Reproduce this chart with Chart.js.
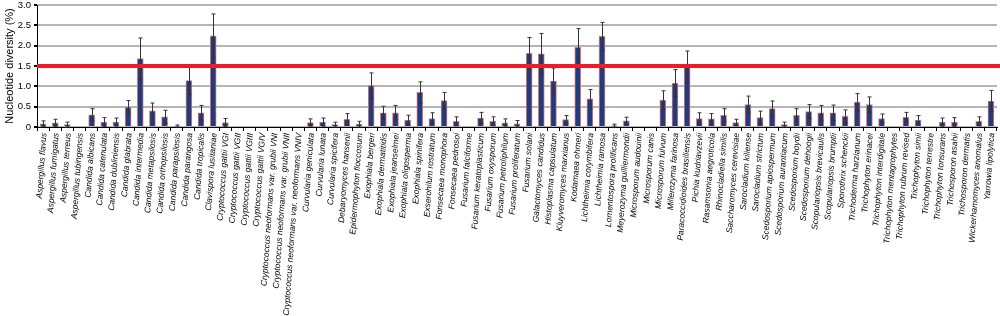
<!DOCTYPE html>
<html>
<head>
<meta charset="utf-8">
<script src="https://cdn.jsdelivr.net/npm/chart.js@4/dist/chart.umd.min.js"></script>
<style>
html,body{margin:0;padding:0;background:#fff;}
#wrap{width:1000px;height:316px;position:relative;}
</style>
</head>
<body>
<div id="wrap"><canvas id="c" width="1000" height="316"></canvas></div>
<script>
const species = [
"Aspergillus flavus","Aspergillus fumigatus","Aspergillus terreus","Aspergillus tubingensis",
"Candida albicans","Candida catenulata","Candida dubliniensis","Candida glabrata","Candida intermedia",
"Candida metapsilosis","Candida orthopsilosis","Candida parapsilosis","Candida parangosa","Candida tropicalis",
"Clavispora lusitaniae","Cryptococcus gattii VGI","Cryptococcus gattii VGII","Cryptococcus gattii VGIII",
"Cryptococcus gattii VGIV","Cryptococcus neoformans var. grubii VNI","Cryptococcus neoformans var. grubii VNII",
"Cryptococcus neoformans var. neoformans VNIV","Curvularia geniculata","Curvularia lunata","Curvularia spicifera",
"Debaryomyces hansenii","Epidermophyton floccosum","Exophiala bergeri","Exophiala dermatitidis","Exophiala jeanselmei",
"Exophiala oligosperma","Exophiala spinifera","Exserohilum rostratum","Fonsecaea monophora","Fonsecaea pedrosoi",
"Fusarium falciforme","Fusarium keratoplasticum","Fusarium oxysporum","Fusarium petroliphilum","Fusarium proliferatum",
"Fusarium solani","Galactomyces candidus","Histoplasma capsulatum","Kluyveromyces marxianus","Kodamaea ohmeri",
"Lichtheimia corymbifera","Lichtheimia ramosa","Lomentospora prolificans","Meyerozyma guilliermondii",
"Microsporum audouinii","Microsporum canis","Microsporum fulvum","Millerozyma farinosa","Paracoccidioides brasiliensis",
"Pichia kudriavzevii","Rasamsonia aegroticola","Rhinocladiella similis","Saccharomyces cerevisiae","Sarocladium kiliense",
"Sarocladium strictum","Scedosporium apiospermum","Scedosporium aurantiacum","Scedosporium boydii","Scedosporium dehoogii",
"Scopulariopsis brevicaulis","Scopulariopsis brumptii","Sporothrix schenckii","Trichoderma harzianum","Trichophyton erinacei",
"Trichophyton interdigitale","Trichophyton mentagrophytes","Trichophyton rubrum revised","Trichophyton simii",
"Trichophyton terrestre","Trichophyton tonsurans","Trichosporon asahii","Trichosporon dermatis",
"Wickerhamomyces anomalus","Yarrowia lipolytica"
];
const diversity = [
0.08,0.10,0.06,0.00,
0.30,0.12,0.12,0.49,1.68,
0.40,0.25,0.02,1.14,0.35,
2.24,0.11,0.00,0.00,
0.00,0.00,0.00,
0.00,0.11,0.12,0.06,
0.19,0.07,1.02,0.35,0.35,
0.17,0.85,0.21,0.65,0.14,
0.00,0.22,0.14,0.10,0.08,
1.81,1.80,1.13,0.18,1.96,
0.69,2.23,0.03,0.15,
0.00,0.00,0.66,1.08,1.48,
0.21,0.20,0.29,0.11,0.55,
0.23,0.45,0.06,0.29,0.38,
0.35,0.35,0.26,0.61,0.55,
0.21,0.00,0.24,0.17,
0.00,0.12,0.12,0.00,
0.14,0.64
];
const errors = [
0.07,0.09,0.06,0.00,
0.15,0.11,0.10,0.16,0.51,
0.19,0.16,0.03,0.34,0.18,
0.54,0.10,0.00,0.00,
0.00,0.00,0.00,
0.00,0.09,0.10,0.06,
0.14,0.07,0.31,0.16,0.18,
0.12,0.26,0.14,0.20,0.11,
0.00,0.14,0.11,0.10,0.08,
0.39,0.50,0.32,0.10,0.46,
0.23,0.34,0.04,0.09,
0.00,0.00,0.23,0.33,0.39,
0.14,0.13,0.16,0.08,0.21,
0.16,0.19,0.06,0.16,0.17,
0.18,0.19,0.16,0.21,0.19,
0.11,0.00,0.12,0.11,
0.00,0.10,0.11,0.00,
0.11,0.26
];
const yTicks = [0, 0.5, 1.0, 1.5, 2.0, 2.5, 3.0];
const threshold = 1.5;
const labelAngle = 86;

const overlay = {
  id: 'overlay',
  afterDatasetsDraw(chart) {
    const ctx = chart.ctx;
    const meta = chart.getDatasetMeta(0);
    const y = chart.scales.y;
    ctx.save();
    ctx.strokeStyle = '#333';
    ctx.lineWidth = 1;
    meta.data.forEach((bar, i) => {
      const e = errors[i];
      if (!e) return;
      const v = diversity[i];
      const x = Math.round(bar.x) + 0.5;
      const yt = y.getPixelForValue(v + e);
      const yb = y.getPixelForValue(Math.max(0, v - e));
      ctx.beginPath();
      ctx.moveTo(x, yt); ctx.lineTo(x, yb);
      ctx.moveTo(x - 2, yt); ctx.lineTo(x + 2, yt);
      ctx.moveTo(x - 2, yb); ctx.lineTo(x + 2, yb);
      ctx.stroke();
    });
    const ry = y.getPixelForValue(threshold);
    ctx.strokeStyle = '#ee1c25';
    ctx.lineWidth = 4;
    ctx.beginPath();
    ctx.moveTo(chart.chartArea.left, ry);
    ctx.lineTo(1000, ry);
    ctx.stroke();
    ctx.restore();
  },
  afterDraw(chart) {
    const ctx = chart.ctx;
    const xs = chart.scales.x;
    ctx.save();
    ctx.fillStyle = '#000';
    ctx.font = 'italic 8.45px "Liberation Sans", Arial, sans-serif';
    ctx.textAlign = 'right';
    ctx.textBaseline = 'middle';
    species.forEach((name, i) => {
      const x = xs.getPixelForValue(i) + 1;
      const yy = xs.top + 6;
      ctx.save();
      ctx.translate(x, yy);
      ctx.rotate(-labelAngle * Math.PI / 180);
      ctx.fillText(name, 0, 0);
      ctx.restore();
    });
    ctx.restore();
  }
};

new Chart(document.getElementById('c'), {
  type: 'bar',
  data: {
    labels: species,
    datasets: [{
      data: diversity,
      backgroundColor: '#1f3c7c',
      borderColor: '#e07878',
      borderWidth: 1,
      barThickness: 6
    }]
  },
  options: {
    responsive: false,
    animation: false,
    devicePixelRatio: 1,
    layout: { padding: { top: 5, right: 3, left: 0, bottom: 0 } },
    plugins: { legend: { display: false }, tooltip: { enabled: false } },
    scales: {
      x: {
        afterFit(s) { s.height = 189; s.paddingLeft = 0; s.paddingRight = 0; },
        grid: { display: true, drawOnChartArea: false, drawTicks: true, tickLength: 4, tickColor: '#000', offset: true },
        border: { color: '#000', width: 1 },
        ticks: { display: false, autoSkip: false }
      },
      y: {
        min: 0, max: 3.0,
        afterFit(s) { s.width = 37; s.paddingTop = 0; s.paddingBottom = 0; },
        afterBuildTicks(s) { s.ticks = yTicks.map(v => ({ value: v })); },
        grid: { color: '#b5b5b5', lineWidth: 2, tickColor: '#000', tickLength: 3 },
        border: { color: '#000', width: 1 },
        ticks: {
          color: '#000', padding: 3,
          font: { family: '"Liberation Sans", Arial, sans-serif', size: 9.5 },
          callback: v => v === 0 ? '0' : Number(v).toFixed(1)
        },
        title: {
          display: true, text: 'Nucleotide diversity (%)', color: '#000', padding: { top: 3, bottom: 0 },
          font: { family: '"Liberation Sans", Arial, sans-serif', size: 11 }
        }
      }
    }
  },
  plugins: [overlay]
});
</script>
</body>
</html>
